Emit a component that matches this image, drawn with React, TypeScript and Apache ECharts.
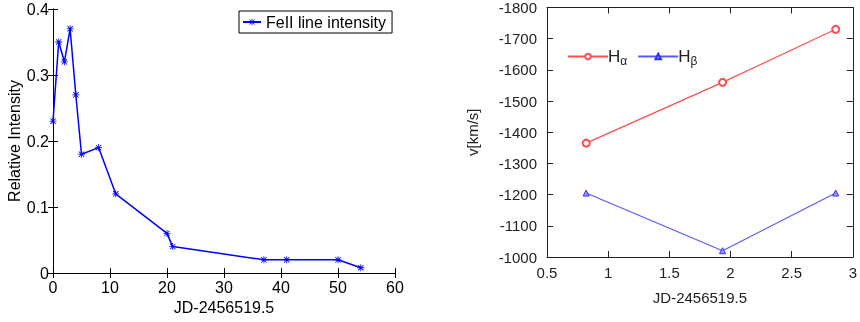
import React, { useEffect, useRef } from "react";
import * as echarts from "echarts";

const feDays = [0, 1, 2, 3, 4, 5, 8, 11, 20, 21, 37, 41, 50, 54];
const feIntensity = [0.23, 0.35, 0.32, 0.37, 0.27, 0.18, 0.19, 0.12, 0.06, 0.04, 0.02, 0.02, 0.02, 0.008];

const velDays = [0.82, 1.935, 2.86];
const hAlpha = [-1365, -1560, -1730];
const hBeta = [-1205, -1020, -1205];

const leftXTicks = { min: 0, max: 60, interval: 10 };
const leftYTicks = { min: 0, max: 0.4, interval: 0.1 };
const rightXTicks = { min: 0.5, max: 3, interval: 0.5 };
const rightYTicks = { min: -1800, max: -1000, interval: 100 };

const asterisk =
  "path://M4.4 0L5.6 0L5.6 10L4.4 10ZM0 4.4L10 4.4L10 5.6L0 5.6ZM0.8 1.6L1.6 0.8L9.2 8.4L8.4 9.2ZM8.4 0.8L9.2 1.6L1.6 9.2L0.8 8.4Z";

const FONT = "Liberation Sans, Arial, sans-serif";

export default function App() {
  const ref = useRef<HTMLDivElement>(null);
  useEffect(() => {
    if (!ref.current) return;
    const chart = echarts.init(ref.current, undefined, { renderer: "svg" });
    const axisBlack = { lineStyle: { color: "#000", width: 1 } };
    const axisGray = { lineStyle: { color: "#222", width: 1 } };
    const plain = (v: number) => String(v);
    const mirrorX = (grid: number, t: any, len: number, style: any) => ({
      type: "value",
      gridIndex: grid,
      position: "top",
      ...t,
      axisLine: { show: true, ...style },
      axisTick: { show: true, inside: true, length: len, ...style },
      axisLabel: { show: false },
      splitLine: { show: false },
    });
    const mirrorY = (grid: number, t: any, len: number, style: any, inverse = false) => ({
      type: "value",
      gridIndex: grid,
      position: "right",
      inverse,
      ...t,
      axisLine: { show: true, ...style },
      axisTick: { show: true, inside: true, length: len, ...style },
      axisLabel: { show: false },
      splitLine: { show: false },
    });
    chart.setOption({
      animation: false,
      textStyle: { fontFamily: FONT },
      grid: [
        { left: 53, top: 9, width: 342, height: 264, show: false },
        { left: 547, top: 7, width: 309, height: 250, show: false },
      ],
      legend: [
        {
          data: ["FeII line intensity"],
          left: 239,
          top: 11,
          padding: [3, 6, 3, 3],
          itemWidth: 18,
          itemHeight: 8,
          borderColor: "#000",
          borderWidth: 1,
          backgroundColor: "#fff",
          textStyle: { fontFamily: FONT, fontSize: 16, color: "#000", padding: [0, 0, 0, 0] },
        },
        {
          data: ["Ha", "Hb"],
          left: 562,
          top: 43,
          itemWidth: 40,
          itemHeight: 7,
          itemGap: 10,
          formatter: (n: string) => (n === "Ha" ? "{h|H}{s|α}" : "{h|H}{s|β}"),
          textStyle: {
            fontFamily: FONT,
            color: "#222",
            padding: [0, 0, 0, -5],
            rich: {
              h: { fontSize: 17, fontFamily: FONT, color: "#222" },
              s: { fontSize: 12, fontFamily: FONT, color: "#222", padding: [9, 0, 0, 0] },
            },
          },
        },
      ],
      xAxis: [
        {
          type: "value",
          gridIndex: 0,
          ...leftXTicks,
          name: "JD-2456519.5",
          nameLocation: "middle",
          nameGap: 23,
          nameTextStyle: { fontSize: 16, color: "#000", fontFamily: FONT },
          axisLine: { show: true, ...axisBlack },
          axisTick: { show: true, inside: true, length: 5, ...axisBlack },
          axisLabel: { fontSize: 16, color: "#000", margin: 6, fontFamily: FONT, formatter: plain },
          splitLine: { show: false },
        },
        mirrorX(0, leftXTicks, 5, axisBlack),
        {
          type: "value",
          gridIndex: 1,
          ...rightXTicks,
          name: "JD-2456519.5",
          nameLocation: "middle",
          nameGap: 33,
          nameTextStyle: { fontSize: 15, color: "#222", fontFamily: FONT },
          axisLine: { show: true, ...axisGray },
          axisTick: { show: true, inside: true, length: 6, ...axisGray },
          axisLabel: { fontSize: 15, color: "#222", margin: 8, fontFamily: FONT, formatter: plain },
          splitLine: { show: false },
        },
        mirrorX(1, rightXTicks, 6, axisGray),
      ],
      yAxis: [
        {
          type: "value",
          gridIndex: 0,
          ...leftYTicks,
          name: "Relative Intensity",
          nameLocation: "middle",
          nameGap: 27,
          nameTextStyle: { fontSize: 16, color: "#000", fontFamily: FONT },
          axisLine: { show: true, ...axisBlack },
          axisTick: { show: true, inside: true, length: 5, ...axisBlack },
          axisLabel: { fontSize: 16, color: "#000", margin: 4, fontFamily: FONT, formatter: plain },
          splitLine: { show: false },
        },
        mirrorY(0, leftYTicks, 5, axisBlack),
        {
          type: "value",
          gridIndex: 1,
          inverse: true,
          ...rightYTicks,
          name: "v[km/s]",
          nameLocation: "middle",
          nameGap: 67,
          nameTextStyle: { fontSize: 15, color: "#222", fontFamily: FONT },
          axisLine: { show: true, ...axisGray },
          axisTick: { show: true, inside: true, length: 6, ...axisGray },
          axisLabel: { fontSize: 15, color: "#222", margin: 10, fontFamily: FONT, formatter: plain },
          splitLine: { show: false },
        },
        mirrorY(1, rightYTicks, 6, axisGray, true),
      ],
      series: [
        {
          name: "FeII line intensity",
          type: "line",
          xAxisIndex: 0,
          yAxisIndex: 0,
          data: feDays.map((d, i) => [d, feIntensity[i]]),
          symbol: asterisk,
          symbolSize: 7,
          showAllSymbol: true,
          lineStyle: { color: "#0000ff", width: 1.5 },
          itemStyle: { color: "#0000ff" },
        },
        {
          name: "Ha",
          type: "line",
          xAxisIndex: 2,
          yAxisIndex: 2,
          data: velDays.map((d, i) => [d, hAlpha[i]]),
          symbol: "emptyCircle",
          symbolSize: 7,
          lineStyle: { color: "#ff4d4d", width: 1.2 },
          itemStyle: { color: "#ff4d4d", borderColor: "#ff3030", borderWidth: 1.2 },
        },
        {
          name: "Hb",
          type: "line",
          xAxisIndex: 2,
          yAxisIndex: 2,
          data: velDays.map((d, i) => [d, hBeta[i]]),
          symbol: "triangle",
          symbolSize: 6,
          lineStyle: { color: "#5959ff", width: 1.2 },
          itemStyle: { color: "#9a9aff", borderColor: "#3030ff", borderWidth: 1 },
        },
      ],
    });
    return () => chart.dispose();
  }, []);
  return <div ref={ref} style={{ position: "fixed", left: 0, top: 0, width: 860, height: 322 }} />;
}
